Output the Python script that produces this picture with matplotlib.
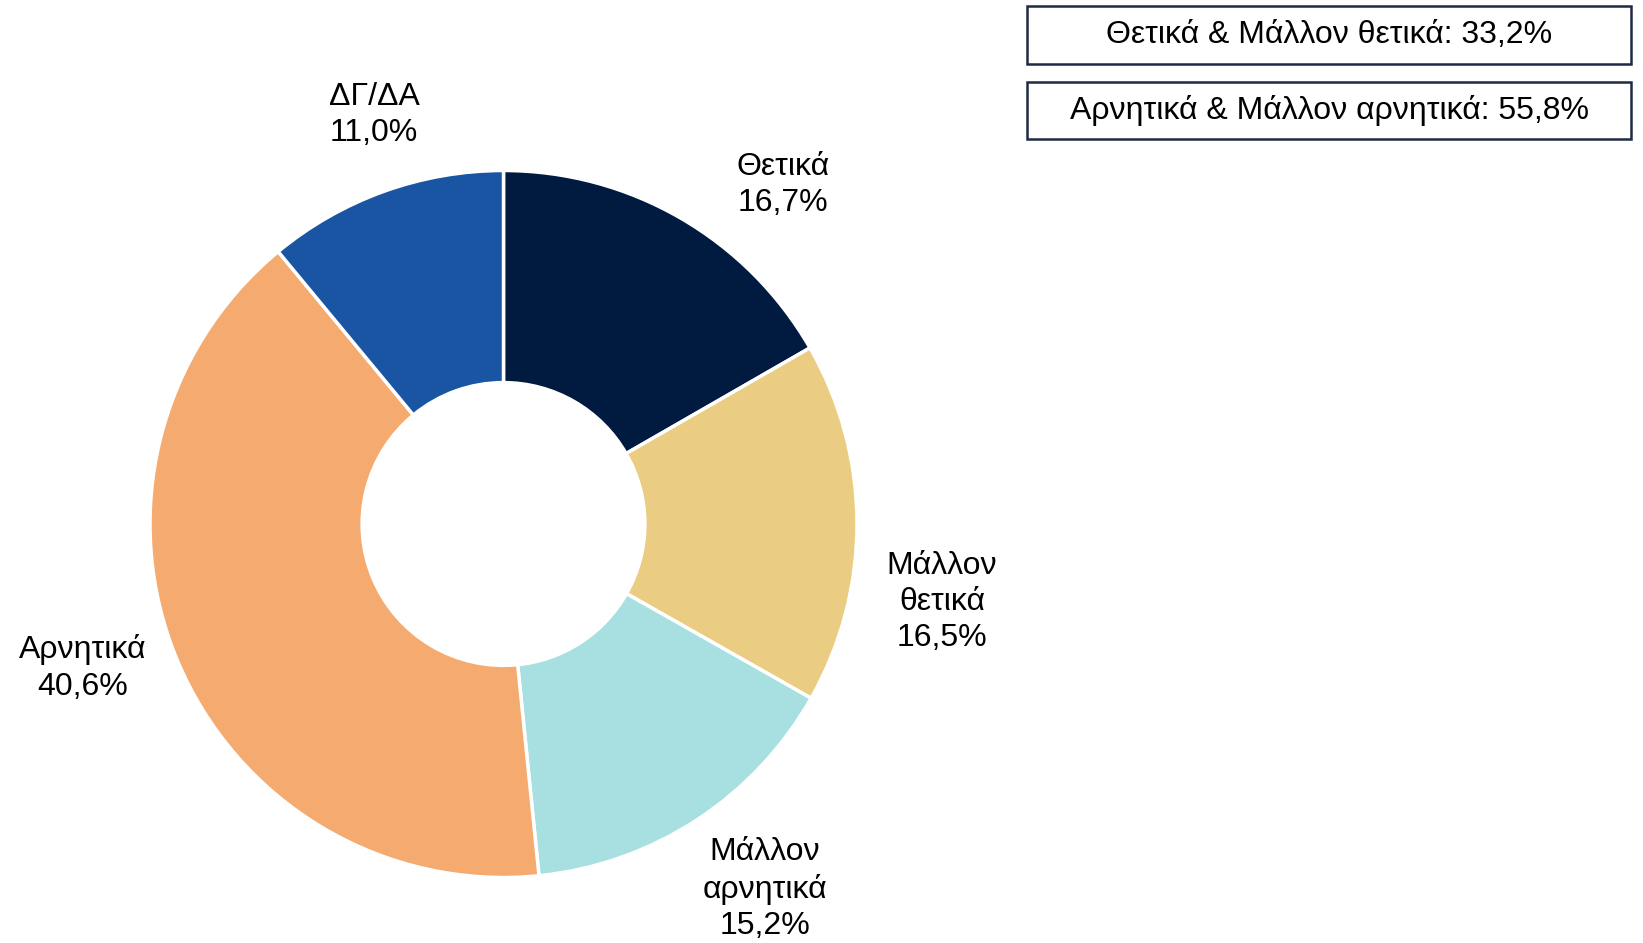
import matplotlib.pyplot as plt
from matplotlib.patches import Rectangle

plt.rcParams['font.family'] = ['Liberation Sans', 'DejaVu Sans']

# data
labels = ['Θετικά', 'Μάλλον\nθετικά', 'Μάλλον\nαρνητικά', 'Αρνητικά', 'ΔΓ/ΔΑ']
values = [16.7, 16.5, 15.2, 40.6, 11.0]
colors = ['#011B40', '#EACC82', '#A8E0E1', '#F5AA70', '#1A55A3']
summary = ['Θετικά & Μάλλον θετικά: 33,2%', 'Αρνητικά & Μάλλον αρνητικά: 55,8%']

W, H = 1643, 943
cx, cy, R = 503.5, 524, 353.5   # donut centre / radius in pixels

fig = plt.figure(figsize=(W / 100, H / 100), dpi=100)
ax = fig.add_axes([0, 0, 1, 1])

ax.pie(values, colors=colors, startangle=90, counterclock=False, radius=1,
       wedgeprops=dict(width=0.6, edgecolor='white', linewidth=2.5))

# pie() resets the limits, so set them afterwards
ax.set_xlim(-cx / R, (W - cx) / R)
ax.set_ylim(-(H - cy) / R, cy / R)
ax.set_aspect('equal')
ax.axis('off')

# label positions in pixels (from the top-left)
label_pos = [(783, 185), (942, 602), (765, 889), (83, 668), (374, 115)]
for lab, v, (px, py) in zip(labels, values, label_pos):
    txt = lab + '\n' + f'{v:.1f}'.replace('.', ',') + '%'
    ax.text((px - cx) / R, (cy - py) / R, txt, ha='center', va='center',
            fontsize=23, linespacing=1.27)

# summary boxes
boxes = [(1027, 6, 1631, 64), (1027, 82, 1631, 139)]
for s, (x0, y0, x1, y1) in zip(summary, boxes):
    fig.patches.append(Rectangle((x0 / W, 1 - y1 / H), (x1 - x0) / W, (y1 - y0) / H,
                                 transform=fig.transFigure, fill=False,
                                 edgecolor='#1F2A44', linewidth=1.8))
    fig.text((x0 + x1) / 2 / W, 1 - (y0 + y1) / 2 / H, s, ha='center', va='center',
             fontsize=23)

fig.savefig('out.png', dpi=100, facecolor='white')
